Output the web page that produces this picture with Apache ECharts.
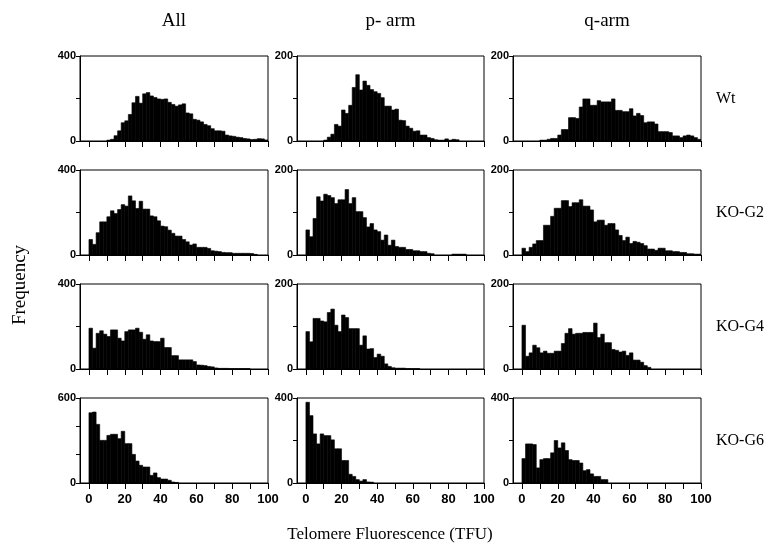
<!DOCTYPE html>
<html><head><meta charset="utf-8">
<script src="https://cdn.jsdelivr.net/npm/echarts@6/dist/echarts.min.js"></script>
<style>html,body{margin:0;padding:0;background:#fff}#c{width:776px;height:548px}</style>
</head><body><div id="c"></div>
<script>
// ---------- DATA ----------
const colTitles = ['All', 'p- arm', 'q-arm'];
const rowLabels = ['Wt', 'KO-G2', 'KO-G4', 'KO-G6'];
const xTitle = 'Telomere Fluorescence (TFU)';
const yTitle = 'Frequency';
const xTickValues = [0, 10, 20, 30, 40, 50, 60, 70, 80, 90, 100];
const xLabelValues = [0, 20, 40, 60, 80, 100];
const binWidth = 2;
const binLeft = [0,2,4,6,8,10,12,14,16,18,20,22,24,26,28,30,32,34,36,38,40,42,44,46,48,
                 50,52,54,56,58,60,62,64,66,68,70,72,74,76,78,80,82,84,86,88,90,92,94,96,98];
const yMaxes = [[400, 200, 200], [400, 200, 200], [400, 200, 200], [600, 400, 400]];
const yTickSteps = [[200, 100, 100], [200, 100, 100], [200, 100, 100], [200, 200, 200]];

const wtAll = [0,0,0,0,0,4,8,25,48,86,95,125,180,210,178,222,228,212,205,198,196,198,182,172,164,
               170,175,132,128,102,98,90,78,72,58,48,48,46,28,24,22,18,16,12,10,7,8,11,10,5];
const wtP   = [0,0,0,0,0,2,9,16,39,35,73,65,84,126,156,120,141,131,121,116,112,102,82,82,73,
               75,49,48,35,30,23,24,14,14,8,6,3,2,2,5,2,4,3,0,0,0,0,0,0,0];
const wtQ   = [0,0,0,0,0,2,2,4,6,6,14,27,27,55,55,53,80,99,99,84,84,95,92,92,92,
               99,72,72,69,69,76,59,65,60,43,45,45,40,22,22,22,20,12,12,8,12,14,12,8,4];
const g2All = [73,50,105,156,156,180,208,195,214,237,230,278,255,219,253,216,216,184,180,161,136,133,117,102,89,
               89,73,62,47,52,36,36,36,31,20,18,16,12,11,11,8,8,8,8,8,7,3,0,0,0];
const g2P   = [59,43,86,137,127,143,140,135,121,130,130,154,121,135,102,102,88,66,74,59,55,35,47,23,35,
               20,18,18,13,13,10,10,8,8,4,3,0,0,0,0,0,2,2,2,2,0,0,0,0,0];
const g2Q   = [16,8,18,26,34,34,70,70,91,110,110,128,128,114,123,123,130,115,115,106,78,82,82,70,74,
               74,59,46,34,42,27,32,30,27,22,14,14,11,16,16,10,10,8,8,6,6,3,3,2,2];
const g4All = [192,98,168,180,164,153,184,184,145,132,176,184,184,192,173,140,161,132,129,129,145,101,101,63,63,
               43,43,43,43,35,19,18,16,12,10,5,3,3,3,2,2,2,2,2,2,0,0,0,0,0];
const g4P   = [88,64,119,119,113,111,133,141,103,88,127,121,95,95,95,56,78,47,48,27,35,30,12,6,3,
               2,2,2,1,1,1,1,0,0,0,0,0,0,0,0,0,0,0,0,0,0,0,0,0,0];
const g4Q   = [103,30,38,56,50,38,42,37,37,42,42,60,84,95,82,84,84,86,86,86,108,74,82,62,62,
               46,44,40,42,32,38,21,21,16,8,4,0,0,0,0,0,0,0,0,0,0,0,0,0,0];
const g6All = [496,501,414,301,301,336,344,344,313,365,278,278,202,155,125,113,113,54,71,38,28,28,19,7,4,
               0,0,0,0,0,0,0,0,0,0,0,0,0,0,0,0,0,0,0,0,0,0,0,0,0];
const g6P   = [380,317,231,184,231,223,223,203,161,161,106,106,41,31,16,9,16,5,4,0,0,0,0,0,0,
               0,0,0,0,0,0,0,0,0,0,0,0,0,0,0,0,0,0,0,0,0,0,0,0,0];
const g6Q   = [115,184,184,181,71,110,115,115,142,200,165,189,153,110,106,106,94,58,63,43,31,31,16,16,0,
               0,0,0,0,0,0,0,0,0,0,0,0,0,0,0,0,0,0,0,0,0,0,0,0,0];

const panels = [[wtAll, wtP, wtQ], [g2All, g2P, g2Q], [g4All, g4P, g4Q], [g6All, g6P, g6Q]];

// ---------- LAYOUT ----------
const colLeft = [80, 297, 513];
const colWidth = [188, 187, 188];
const rowTop = [56, 170, 284, 398];
const rowHeight = 85;
const serif = '"Liberation Serif", "DejaVu Serif", serif';
const sans = '"Liberation Sans", Arial, sans-serif';

const grids = [], xAxes = [], yAxes = [], series = [];
let idx = 0;
for (let r = 0; r < 4; r++) {
  for (let c = 0; c < 3; c++) {
    grids.push({ left: colLeft[c], top: rowTop[r], width: colWidth[c], height: rowHeight,
                 show: true, borderColor: '#000', borderWidth: 1, backgroundColor: 'transparent' });
    const isBottom = r === 3;
    xAxes.push({
      gridIndex: idx, type: 'value', min: -5, max: 100,
      axisLine: { show: true, onZero: false, lineStyle: { color: '#000', width: 1 } },
      axisTick: { show: true, length: 6, customValues: xTickValues, lineStyle: { color: '#000' } },
      axisLabel: { show: isBottom, customValues: xLabelValues, margin: 10,
                   color: '#000', fontFamily: sans, fontWeight: 'bold', fontSize: 13 },
      splitLine: { show: false }
    });
    const M = yMaxes[r][c];
    yAxes.push({
      gridIndex: idx, type: 'value', min: 0, max: M, interval: yTickSteps[r][c],
      axisLine: { show: true, onZero: false, lineStyle: { color: '#000', width: 1 } },
      axisTick: { show: true, length: 4, lineStyle: { color: '#000' } },
      axisLabel: { margin: 4, color: '#000', fontFamily: sans, fontWeight: 'bold', fontSize: 11,
                   formatter: (v) => (v === 0 || v === M) ? String(v) : '' },
      splitLine: { show: false }
    });
    const vals = panels[r][c];
    series.push({
      type: 'custom', xAxisIndex: idx, yAxisIndex: idx, clip: true,
      data: binLeft.map((b, i) => [b, vals[i]]),
      encode: { x: 0, y: 1 },
      renderItem: function (params, api) {
        const x0 = api.value(0), v = api.value(1);
        if (!v) return null;
        const p0 = api.coord([x0, v]);
        const p1 = api.coord([x0 + binWidth, 0]);
        return { type: 'rect',
                 shape: { x: p0[0], y: p0[1], width: p1[0] - p0[0], height: p1[1] - p0[1] },
                 style: { fill: '#000', stroke: '#000', lineWidth: 0.6 } };
      }
    });
    idx++;
  }
}

const graphics = [];
colTitles.forEach((t, c) => graphics.push({
  type: 'text', x: colLeft[c] + colWidth[c] / 2, y: 21,
  style: { text: t, font: '19px ' + serif, fill: '#000', textAlign: 'center', textVerticalAlign: 'middle' }
}));
rowLabels.forEach((t, r) => graphics.push({
  type: 'text', x: 716, y: rowTop[r] + rowHeight / 2,
  style: { text: t, font: '16px ' + serif, fill: '#000', textAlign: 'left', textVerticalAlign: 'middle' }
}));
graphics.push({ type: 'text', x: 390, y: 535,
  style: { text: xTitle, font: '17px ' + serif, fill: '#000', textAlign: 'center', textVerticalAlign: 'middle' } });
graphics.push({ type: 'text', x: 20, y: 285, rotation: Math.PI / 2,
  style: { text: yTitle, font: '19px ' + serif, fill: '#000', textAlign: 'center', textVerticalAlign: 'middle' } });

const chart = echarts.init(document.getElementById('c'), null, { renderer: 'canvas' });
chart.setOption({
  backgroundColor: '#fff',
  animation: false,
  grid: grids, xAxis: xAxes, yAxis: yAxes, series: series,
  graphic: graphics
});
</script></body></html>
